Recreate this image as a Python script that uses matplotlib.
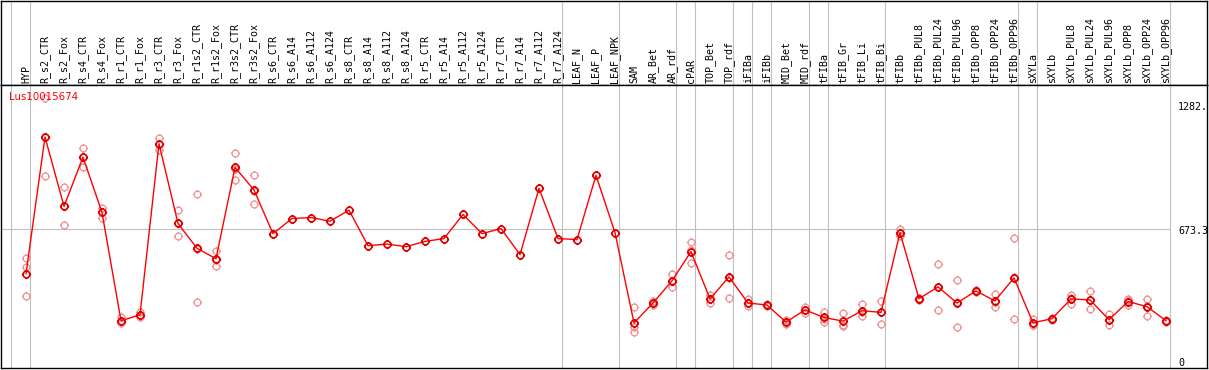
import matplotlib
matplotlib.use("Agg")
import matplotlib.pyplot as plt
import matplotlib.path as mpath
import numpy as np

categories = ["HYP", "R_s2_CTR", "R_s2_Fox", "R_s4_CTR", "R_s4_Fox", "R_r1_CTR", "R_r1_Fox",
              "R_r3_CTR", "R_r3_Fox", "R_r1s2_CTR", "R_r1s2_Fox", "R_r3s2_CTR", "R_r3s2_Fox",
              "R_s6_CTR", "R_s6_A14", "R_s6_A112", "R_s6_A124", "R_s8_CTR", "R_s8_A14",
              "R_s8_A112", "R_s8_A124", "R_r5_CTR", "R_r5_A14", "R_r5_A112", "R_r5_A124",
              "R_r7_CTR", "R_r7_A14", "R_r7_A112", "R_r7_A124", "LEAF_N", "LEAF_P", "LEAF_NPK",
              "SAM", "AR_Bet", "AR_rdf", "cPAR", "TOP_Bet", "TOP_rdf", "iFIBa", "iFIBb",
              "MID_Bet", "MID_rdf", "tFIBa", "tFIB_Gr", "tFIB_Li", "tFIB_Bi", "tFIBb",
              "tFIBb_PUL8", "tFIBb_PUL24", "tFIBb_PUL96", "tFIBb_OPP8", "tFIBb_OPP24",
              "tFIBb_OPP96", "sXYLa", "sXYLb", "sXYLb_PUL8", "sXYLb_PUL24", "sXYLb_PUL96",
              "sXYLb_OPP8", "sXYLb_OPP24", "sXYLb_OPP96"]

mean_values = [452, 1123, 783, 1024, 753, 222, 251, 1090, 699, 577, 526, 974, 863,
               649, 723, 728, 710, 764, 590, 598, 585, 611, 625, 743, 649, 674, 546, 871, 625,
               620, 935, 654, 211, 309, 418, 561, 329, 437, 309, 299, 215, 275, 238, 220, 271,
               263, 654, 330, 388, 309, 368, 319, 432, 212, 232, 329, 324, 227, 316, 291, 222]

replicates = [[529, 485, 345], [1312, 932, 1123], [876, 783, 689], [1070, 1024, 978],
              [776, 753, 728], [238, 222, 209], [263, 251, 238], [1119, 1090, 1057],
              [764, 699, 636], [843, 572, 316], [564, 522, 492], [1045, 966, 911],
              [937, 860, 792],
              [], [], [], [], [], [], [], [], [], [], [], [], [], [], [], [], [], [], [],
              [289, 189, 169], [320, 309, 300], [449, 418, 386], [610, 569, 504],
              [349, 329, 311], [546, 431, 334], [327, 309, 292], [305, 299, 293],
              [227, 215, 204], [289, 275, 258], [266, 230, 218], [260, 203, 197],
              [306, 264, 243], [319, 266, 204], [674, 654, 636], [335, 330, 325],
              [501, 388, 275], [423, 313, 191], [373, 368, 363], [355, 313, 289],
              [630, 436, 230], [232, 203, 201], [236, 232, 228], [349, 332, 306],
              [368, 326, 278], [255, 225, 201], [327, 322, 299], [330, 296, 247],
              [226, 222, 218]]

group_ends = [-1, 0, 28, 31, 34, 35, 37, 38, 39, 41, 42, 45, 52, 53, 60]
y_labels = ["1282.", "673.3", "0"]
ref_level = 673.3
title = "Lus10015674"

W, H = 1209, 370
fig = plt.figure(figsize=(W / 100, H / 100), dpi=100)

def px_x(p):
    return p / W

def px_y(p):  # pixel from top -> fig fraction
    return 1 - p / H

# x mapping: category i at pixel 26 + 19*i ; axes spans pixel 1..1207
x0, dx = 26.0, 19.0
xlim = ((1 - x0) / dx, (1207 - x0) / dx)
# y mapping: value 0 at pixel 366, 673.3 at pixel 228.7
ys = (366 - 228.7) / 673.3
ylim = ((366 - 368) / ys, (366 - 85) / ys)

grey = "#c0c0c0"
lw1 = 0.8

ax_h = fig.add_axes([px_x(1), px_y(85), px_x(1206), (85 - 0.6) / H])
ax = fig.add_axes([px_x(1), px_y(368), px_x(1206), (368 - 85) / H])
for a in (ax_h, ax):
    a.set_xlim(*xlim)
    a.set_xticks([])
    a.set_yticks([])
    for s in a.spines.values():
        s.set_color("black")
        s.set_linewidth(1.0)
ax.set_ylim(*ylim)
ax_h.set_ylim(0, 1)

sep_x = [g + 0.23 for g in group_ends]
for xv in sep_x:
    ax_h.axvline(xv, color=grey, lw=lw1, zorder=0)
    ax.axvline(xv, color=grey, lw=lw1, zorder=0)
ax.plot([xlim[0], sep_x[-1]], [ref_level, ref_level], color=grey, lw=lw1, zorder=0)

fontmono = "DejaVu Sans Mono"
for i, c in enumerate(categories):
    ax_h.text(i, 2.0 / 85, c, rotation=90, ha="center", va="bottom",
              fontsize=7.2, family=fontmono, color="black")

# custom marker: circle with small ticks
circ = mpath.Path.unit_circle()
verts = list(circ.vertices)
codes = list(circ.codes)
for ddx, ddy in [(0, 1), (0, -1), (1, 0), (-1, 0)]:
    verts += [(ddx * 1.0, ddy * 1.0), (ddx * 1.35, ddy * 1.35)]
    codes += [mpath.Path.MOVETO, mpath.Path.LINETO]
mk = mpath.Path(np.array(verts), codes)

xs = np.arange(len(categories))
rx, ry = [], []
for i, reps in enumerate(replicates):
    for v in reps:
        rx.append(i)
        ry.append(v)
ax.plot(rx, ry, linestyle="none", marker=mk, markersize=6.6, mfc="none",
        mec="#f09090", mew=0.9, zorder=2, clip_on=False)
ax.plot(xs, mean_values, color="#ff0000", lw=1.0, zorder=3)
ax.plot(xs, mean_values, linestyle="none", marker=mk, markersize=6.6, mfc="none",
        mec="#e00000", mew=1.2, zorder=4)

fig.text(px_x(9), px_y(97), title, color="#ff0000", fontsize=7.4,
         family="DejaVu Sans", ha="left", va="center")
for lab, yp in zip(y_labels, [106.5, 231, 363]):
    fig.text(px_x(1178), px_y(yp), lab, fontsize=7.2, family=fontmono,
             ha="left", va="center", color="black")

fig.savefig("out.png", dpi=100)
